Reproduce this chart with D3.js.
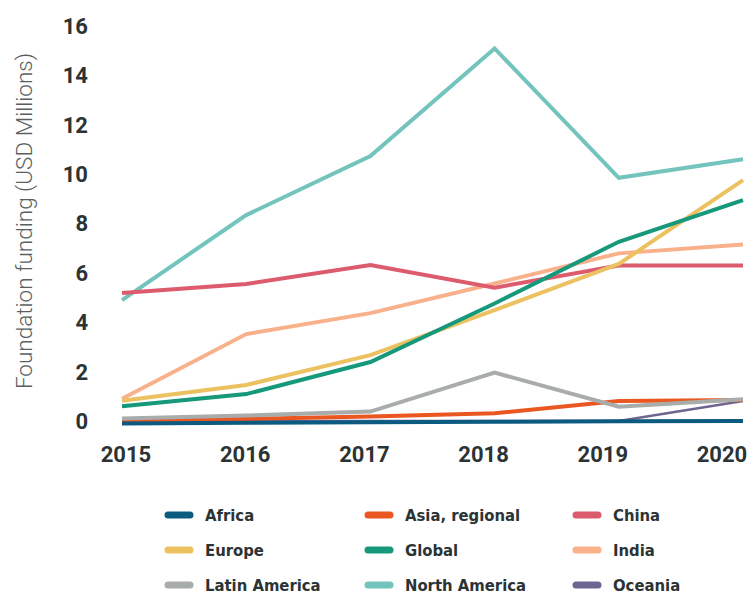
<!DOCTYPE html>
<html>
<head>
<meta charset="utf-8">
<script src="https://cdn.jsdelivr.net/npm/d3@7"></script>
<style>
  body { margin: 0; background: #fff; }
  svg { display: block; }
  .tick-label { font-family: Roboto, "Liberation Sans", sans-serif; font-weight: 700; font-size: 22px; fill: #2b3335; }
  .legend-label { font-family: "Liberation Sans Narrow", "DejaVu Sans Condensed", sans-serif; font-weight: 700; font-size: 16.5px; fill: #2b3335; }
  .axis-title { font-family: Roboto, "Liberation Sans", sans-serif; font-weight: 300; font-size: 22.5px; fill: #595f61; }
</style>
</head>
<body>
<div id="chart"></div>
<script>
// Data
const years = [2015, 2016, 2017, 2018, 2019, 2020];
const yTicks = [0, 2, 4, 6, 8, 10, 12, 14, 16];

const regions = ["Africa", "Asia, regional", "China", "Europe", "Global", "India", "Latin America", "North America", "Oceania"];

const africa = [-0.1, -0.07, -0.05, -0.03, -0.01, 0.0];
const asiaRegional = [0.03, 0.08, 0.18, 0.31, 0.81, 0.85];
const china = [5.18, 5.55, 6.32, 5.4, 6.3, 6.3];
const europe = [0.82, 1.46, 2.67, 4.49, 6.36, 9.76];
const global = [0.6, 1.09, 2.39, 4.76, 7.26, 8.95];
const india = [0.9, 3.52, 4.37, 5.57, 6.79, 7.15];
const latinAmerica = [0.1, 0.22, 0.38, 1.96, 0.58, 0.88];
const northAmerica = [4.9, 8.34, 10.73, 15.09, 9.85, 10.6];
const oceania = [0, 0, 0, 0, 0, 0.81];

const seriesValues = {
  "Africa": africa,
  "Asia, regional": asiaRegional,
  "China": china,
  "Europe": europe,
  "Global": global,
  "India": india,
  "Latin America": latinAmerica,
  "North America": northAmerica,
  "Oceania": oceania,
};

const colors = {
  "Africa": "#0b5a80",
  "Asia, regional": "#ea5720",
  "China": "#dc5b6c",
  "Europe": "#ecc15f",
  "Global": "#16987a",
  "India": "#f9b18c",
  "Latin America": "#a8acab",
  "North America": "#72c4bd",
  "Oceania": "#6f6591",
};

// drawing order (later = on top)
const drawOrder = ["Oceania", "North America", "India", "China", "Europe", "Global", "Asia, regional", "Latin America", "Africa"];

const width = 752;
const height = 594;

const svg = d3.select("#chart")
  .append("svg")
  .attr("width", width)
  .attr("height", height);

// Scales
const xScale = d3.scalePoint().domain(years).range([122, 743]);
const xLabelScale = d3.scalePoint().domain(years).range([126, 722]);
const yScale = d3.scaleLinear().domain([0, 16]).range([421, 26]);

// Y axis tick labels
svg.append("g")
  .selectAll("text")
  .data(yTicks)
  .join("text")
  .attr("class", "tick-label")
  .attr("x", 88)
  .attr("y", (d) => yScale(d))
  .attr("dy", "0.36em")
  .attr("text-anchor", "end")
  .text((d) => d);

// X axis tick labels
svg.append("g")
  .selectAll("text")
  .data(years)
  .join("text")
  .attr("class", "tick-label")
  .attr("x", (d) => xLabelScale(d))
  .attr("y", 454)
  .attr("dy", "0.36em")
  .attr("text-anchor", "middle")
  .text((d) => d);

// Y axis title
svg.append("text")
  .attr("class", "axis-title")
  .attr("transform", "translate(32, 221) rotate(-90)")
  .attr("text-anchor", "middle")
  .text("Foundation funding (USD Millions)");

// Lines
const line = d3.line()
  .x((d, i) => xScale(years[i]))
  .y((d) => yScale(d));

svg.append("g")
  .selectAll("path")
  .data(drawOrder)
  .join("path")
  .attr("d", (name) => line(seriesValues[name]))
  .attr("fill", "none")
  .attr("stroke", (name) => colors[name])
  .attr("stroke-width", (name) => (name === "Oceania" ? 2.5 : 4))
  .attr("stroke-linejoin", "miter")
  .attr("stroke-linecap", "butt");

// Legend
const legendCols = [165, 365, 573];
const legendRows = [515, 550, 585];

const legend = svg.append("g")
  .selectAll("g")
  .data(regions)
  .join("g")
  .attr("transform", (d, i) => `translate(${legendCols[i % 3]}, ${legendRows[Math.floor(i / 3)]})`);

legend.append("line")
  .attr("x1", 3)
  .attr("x2", 25)
  .attr("y1", 0)
  .attr("y2", 0)
  .attr("stroke", (d) => colors[d])
  .attr("stroke-width", 7)
  .attr("stroke-linecap", "round");

legend.append("text")
  .attr("class", "legend-label")
  .attr("x", 40)
  .attr("y", 0)
  .attr("dy", "0.35em")
  .text((d) => d);
</script>
</body>
</html>
